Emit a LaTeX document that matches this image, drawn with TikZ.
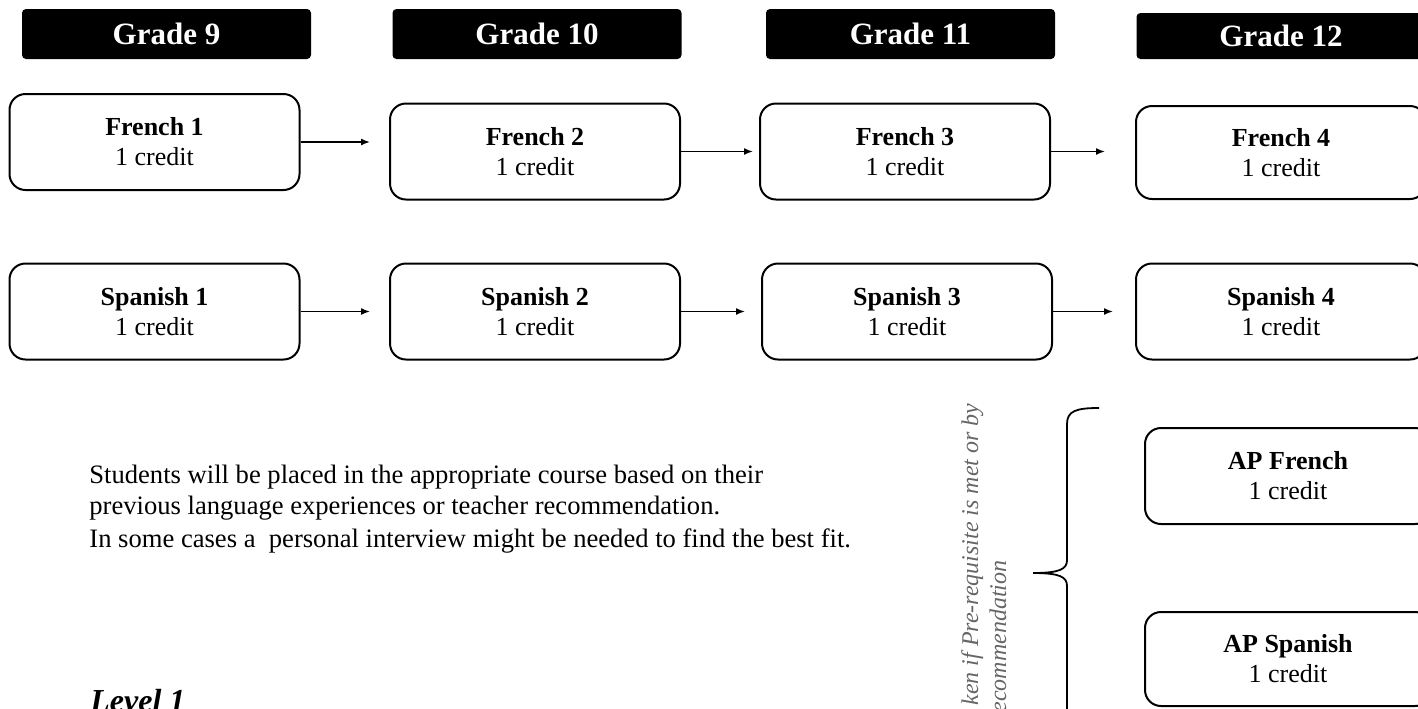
\documentclass[tikz,border=0pt]{standalone}
\usepackage{fontspec}
\setmainfont{Liberation Serif}
\usetikzlibrary{arrows.meta}
\tikzset{
  hdr/.style={fill=black, rounded corners=2pt, minimum width=144.5pt, minimum height=25pt,
    text=white, inner sep=0pt, font=\fontsize{15.5}{18}\selectfont\bfseries},
  course/.style={draw, line width=1pt, rounded corners=8pt, minimum width=145pt,
    minimum height=48pt, align=center, inner sep=0pt, font=\fontsize{13}{15}\selectfont},
  arr/.style={line width=0.75pt, -{Latex[length=4.5pt,width=3.5pt]}},
  rot/.style={rotate=90, inner sep=0pt, text=black!60, font=\fontsize{12}{14}\selectfont\itshape},
  para/.style={anchor=base west, inner sep=0pt, font=\fontsize{13.3}{16}\selectfont}
}
\begin{document}
\begin{tikzpicture}[x=0.5pt,y=-0.5pt]
\useasboundingbox (0,0) rectangle (1418,708);
\clip (0,0) rectangle (1418,708);
% headers
\node[hdr] (g9)  at (166.5,34) {Grade 9};
\node[hdr] (g10) at (537,34) {Grade 10};
\node[hdr] (g11) at (910.5,34) {Grade 11};
\node[hdr, minimum height=23pt] (g12) at (1281,36) {Grade 12};
% French row
\node[course] (f1) at (154.5,142) {\textbf{French 1}\\1 credit};
\node[course] (f2) at (535,151.5) {\textbf{French 2}\\1 credit};
\node[course] (f3) at (905,151.5) {\textbf{French 3}\\1 credit};
\node[course, minimum height=46.5pt] (f4) at (1281,152.5) {\textbf{French 4}\\1 credit};
% Spanish row
\node[course] (s1) at (154.5,311.5) {\textbf{Spanish 1}\\1 credit};
\node[course] (s2) at (535,311.5) {\textbf{Spanish 2}\\1 credit};
\node[course] (s3) at (907,311.5) {\textbf{Spanish 3}\\1 credit};
\node[course] (s4) at (1281,311.5) {\textbf{Spanish 4}\\1 credit};
% AP
\node[course, minimum width=143pt] (apf) at (1288,476) {\textbf{AP French}\\1 credit};
\node[course, minimum width=143pt, minimum height=47pt] (aps) at (1288,659) {\textbf{AP Spanish}\\1 credit};
% arrows
\draw[arr, shorten >=9.5pt] (f1.east) -- (f1.east -| f2.west);
\draw[arr, shorten >=3pt] (f2.east) -- (f2.east -| f3.west);
\draw[arr, shorten >=15pt] (f3.east) -- (f3.east -| f4.west);
\draw[arr, shorten >=9.5pt] (s1.east) -- (s1.east -| s2.west);
\draw[arr, shorten >=8pt] (s2.east) -- (s2.east -| s3.west);
\draw[arr, shorten >=11pt] (s3.east) -- (s3.east -| s4.west);
% brace
\draw[line width=0.9pt] (1099,408) .. controls (1076,408) and (1067,411) .. (1067,424)
  -- (1067,560) .. controls (1067,569) and (1060,573) .. (1033,573)
  .. controls (1060,573) and (1067,577) .. (1067,586) -- (1067,720);
% rotated note
\node[rot, anchor=base east] (r1) at (978,403) {ken if Pre-requisite is met or by};
\node[rot, anchor=base east] (r2) at (1006,560) {ecommendation};
% paragraph
\node[para] (p1) at (89,483) {Students will be placed in the appropriate course based on their};
\node[para] (p2) at (89,514) {previous language experiences or teacher recommendation.};
\node[para] (p3) at (89,547) {In some cases a\ \ personal interview might be needed to find the best fit.};
% level
\node[anchor=base west, inner sep=0pt, font=\fontsize{16}{19}\selectfont\bfseries\itshape] (lv) at (90,711) {Level 1};
\end{tikzpicture}
\end{document}
